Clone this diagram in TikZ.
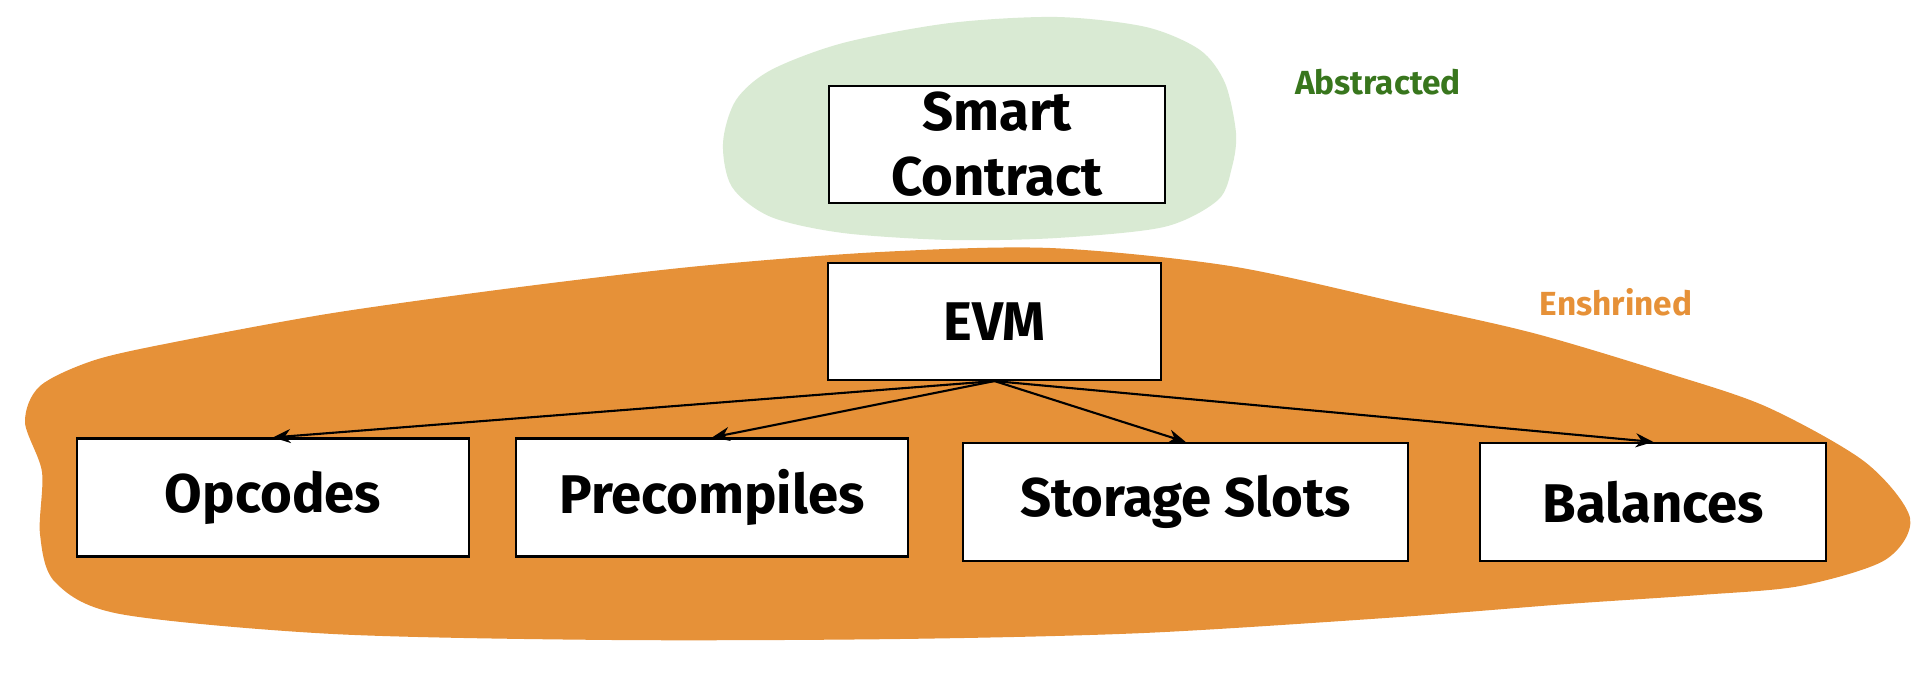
\documentclass[tikz,border=0pt]{standalone}
\usepackage{fontspec}
\setmainfont{Fira Sans}
\usepackage{xcolor}
\usepackage{tikz}
\usetikzlibrary{arrows.meta, positioning}
\definecolor{enshrined}{HTML}{E69138}
\definecolor{abstractbg}{HTML}{D9EAD3}
\definecolor{abstracttxt}{HTML}{38761D}

\begin{document}
\begin{tikzpicture}[
  box/.style={draw, line width=0.6pt, fill=white, minimum height=1.18cm,
              font=\fontsize{15.5}{18.5}\selectfont\bfseries, align=center, inner sep=0pt},
  arr/.style={-{Stealth[length=5pt, width=4pt]}, line width=0.6pt},
  tag/.style={font=\fontsize{9.5}{11}\selectfont\bfseries},
  node distance=0.45cm,
]
  \useasboundingbox (0,0) rectangle (19.2,6.84);

  \fill[enshrined] plot[smooth cycle] coordinates {
    (8.80,4.32) (10.50,4.36) (12.30,4.18) (14.00,3.81) (15.33,3.51)
    (16.67,3.11) (17.67,2.77) (18.65,2.22) (19.10,1.66) (18.85,1.24)
    (18.00,0.98) (17.00,0.89) (15.67,0.80) (14.00,0.67) (11.44,0.51)
    (9.00,0.45) (6.12,0.44) (3.33,0.50) (1.20,0.70) (0.55,1.02)
    (0.40,1.50) (0.42,2.12) (0.25,2.62) (0.40,2.98) (0.95,3.24)
    (1.80,3.43) (3.33,3.71) (5.20,3.97) (7.00,4.18)};
  \fill[abstractbg] plot[smooth cycle] coordinates {
    (7.23,5.41) (7.36,5.84) (7.71,6.14) (8.43,6.41) (9.50,6.61)
    (10.57,6.67) (11.46,6.57) (12.00,6.34) (12.25,6.01) (12.36,5.51)
    (12.32,5.17) (12.18,4.84) (11.64,4.57) (10.57,4.46) (9.50,4.44)
    (8.43,4.51) (7.71,4.67) (7.32,4.97)};

  \node[box, minimum width=3.36cm, minimum height=1.17cm] (sc) at (9.97,5.395) {Smart\\Contract};
  \node[box, minimum width=3.33cm, minimum height=1.17cm] (evm) at (9.945,3.625) {EVM};
  \node[box, minimum width=3.92cm] (op) at (2.73,1.865) {Opcodes};
  \node[box, minimum width=3.92cm, right=of op] (pre) {Precompiles};
  \node[box, minimum width=4.45cm, right=0.53cm of pre, yshift=-0.045cm] (stor) {Storage Slots};
  \node[box, minimum width=3.46cm, right=0.70cm of stor] (bal) {Balances};
  \node[tag, text=abstracttxt] (abs) at (13.78,6.02) {Abstracted};
  \node[tag, text=enshrined] (ens) at (16.16,3.82) {Enshrined};

  \foreach \child in {op, pre, stor, bal}
    \draw[arr] (evm.south) -- (\child.north);
\end{tikzpicture}
\end{document}
